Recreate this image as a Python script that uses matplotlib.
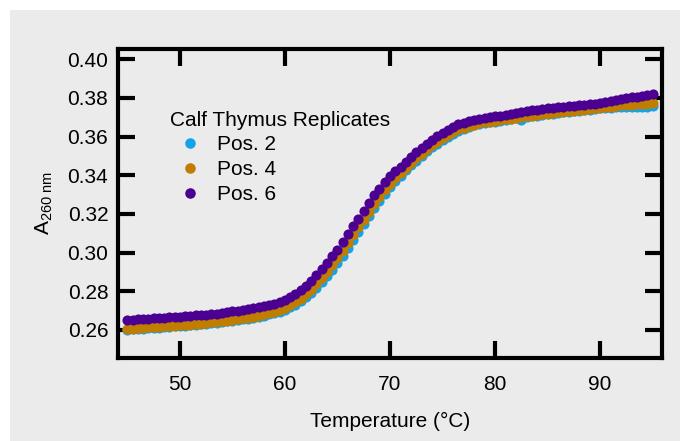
import matplotlib
matplotlib.use("Agg")
import matplotlib.pyplot as plt
from matplotlib.patches import Rectangle
from matplotlib.lines import Line2D
import numpy as np

plt.rcParams['font.family'] = ['Liberation Sans', 'DejaVu Sans']
plt.rcParams['mathtext.fontset'] = 'custom'
plt.rcParams['mathtext.rm'] = 'Liberation Sans'
plt.rcParams['mathtext.it'] = 'Liberation Sans'

temperature = np.arange(45.0, 95.01, 0.5)

pos2 = [0.2600, 0.2603, 0.2605, 0.2607, 0.2609, 0.2610, 0.2612, 0.2614, 0.2616, 0.2618,
        0.2620, 0.2622, 0.2624, 0.2627, 0.2629, 0.2632, 0.2635, 0.2638, 0.2641, 0.2644,
        0.2648, 0.2651, 0.2655, 0.2659, 0.2664, 0.2669, 0.2674, 0.2680, 0.2687, 0.2695,
        0.2705, 0.2717, 0.2731, 0.2748, 0.2768, 0.2791, 0.2817, 0.2846, 0.2878, 0.2912,
        0.2948, 0.2985, 0.3024, 0.3065, 0.3106, 0.3148, 0.3189, 0.3230, 0.3269, 0.3305,
        0.3339, 0.3370, 0.3398, 0.3425, 0.3451, 0.3476, 0.3500, 0.3523, 0.3544, 0.3564,
        0.3583, 0.3600, 0.3616, 0.3630, 0.3641, 0.3650, 0.3658, 0.3664, 0.3669, 0.3674,
        0.3678, 0.3682, 0.3686, 0.3690, 0.3694, 0.3686, 0.3702, 0.3706, 0.3709, 0.3713,
        0.3716, 0.3719, 0.3722, 0.3725, 0.3728, 0.3731, 0.3734, 0.3737, 0.3740, 0.3743,
        0.3746, 0.3748, 0.3750, 0.3752, 0.3753, 0.3754, 0.3752, 0.3751, 0.3752, 0.3753,
        0.3756]

pos4 = [0.2605, 0.2607, 0.2609, 0.2611, 0.2613, 0.2614, 0.2616, 0.2618, 0.2620, 0.2622,
        0.2624, 0.2626, 0.2628, 0.2631, 0.2633, 0.2636, 0.2639, 0.2642, 0.2645, 0.2648,
        0.2652, 0.2656, 0.2660, 0.2664, 0.2669, 0.2674, 0.2680, 0.2686, 0.2694, 0.2703,
        0.2714, 0.2727, 0.2743, 0.2762, 0.2784, 0.2809, 0.2837, 0.2867, 0.2900, 0.2934,
        0.2970, 0.3008, 0.3048, 0.3089, 0.3130, 0.3171, 0.3212, 0.3252, 0.3289, 0.3324,
        0.3356, 0.3385, 0.3412, 0.3438, 0.3464, 0.3489, 0.3512, 0.3534, 0.3554, 0.3574,
        0.3592, 0.3609, 0.3624, 0.3637, 0.3647, 0.3655, 0.3662, 0.3668, 0.3673, 0.3677,
        0.3681, 0.3685, 0.3689, 0.3693, 0.3697, 0.3701, 0.3705, 0.3709, 0.3712, 0.3716,
        0.3719, 0.3722, 0.3725, 0.3728, 0.3731, 0.3734, 0.3737, 0.3740, 0.3743, 0.3746,
        0.3749, 0.3752, 0.3755, 0.3758, 0.3761, 0.3763, 0.3765, 0.3767, 0.3769, 0.3771,
        0.3774]

pos6 = [0.2652, 0.2654, 0.2656, 0.2657, 0.2659, 0.2660, 0.2662, 0.2664, 0.2665, 0.2667,
        0.2669, 0.2671, 0.2673, 0.2675, 0.2677, 0.2679, 0.2682, 0.2685, 0.2688, 0.2692,
        0.2696, 0.2700, 0.2704, 0.2708, 0.2712, 0.2717, 0.2722, 0.2728, 0.2735, 0.2744,
        0.2754, 0.2768, 0.2785, 0.2805, 0.2828, 0.2853, 0.2882, 0.2913, 0.2947, 0.2981,
        0.3016, 0.3056, 0.3096, 0.3136, 0.3175, 0.3217, 0.3258, 0.3296, 0.3331, 0.3364,
        0.3394, 0.3420, 0.3445, 0.3470, 0.3496, 0.3519, 0.3541, 0.3562, 0.3582, 0.3601,
        0.3618, 0.3634, 0.3650, 0.3663, 0.3672, 0.3680, 0.3687, 0.3692, 0.3697, 0.3701,
        0.3705, 0.3709, 0.3713, 0.3718, 0.3722, 0.3727, 0.3731, 0.3736, 0.3740, 0.3744,
        0.3747, 0.3750, 0.3752, 0.3755, 0.3757, 0.3759, 0.3761, 0.3763, 0.3766, 0.3769,
        0.3773, 0.3778, 0.3784, 0.3791, 0.3796, 0.3800, 0.3804, 0.3807, 0.3810, 0.3813,
        0.3818]

series_labels = ["Pos. 2", "Pos. 4", "Pos. 6"]
series_colors = ["#14a3ea", "#c17d00", "#4b0092"]
legend_title = "Calf Thymus Replicates"
x_ticks = [50, 60, 70, 80, 90]
y_ticks = [0.26, 0.28, 0.30, 0.32, 0.34, 0.36, 0.38, 0.40]

W, H = 680, 441
FS = 15
fig = plt.figure(figsize=(W / 100, H / 100), dpi=100, facecolor="white")
bg = "#ebebeb"
fig.patches.append(Rectangle((10 / W, 0), 1 - 10 / W, 1 - 10 / H,
                             transform=fig.transFigure, facecolor=bg,
                             edgecolor="none", zorder=-10))

ax = fig.add_axes([118 / W, 1 - 358 / H, (662 - 118) / W, (358 - 49) / H])
ax.set_facecolor(bg)

for vals, lab, col in zip([pos2, pos4, pos6], series_labels, series_colors):
    ax.plot(temperature, vals, linestyle="none", marker="o", markersize=7.3,
            markeredgewidth=0, color=col, label=lab, clip_on=False)

ax.set_xlim(44.1, 95.9)
ax.set_ylim(0.2455, 0.4053)
ax.set_xticks(x_ticks)
ax.set_xticklabels([str(t) for t in x_ticks])
ax.set_yticks(y_ticks)
ax.set_yticklabels([f"{t:.2f}" for t in y_ticks])

for sp in ax.spines.values():
    sp.set_linewidth(3.0)
    sp.set_color("black")

ax.tick_params(axis="both", which="major", direction="in", length=12, width=3,
               color="black", labelsize=FS, top=True, right=True)
ax.tick_params(axis="x", pad=12)
ax.tick_params(axis="y", pad=7)

ax.set_xlabel("Temperature (°C)", fontsize=FS, labelpad=13)
ax.set_ylabel(r"A$_{\mathregular{260\ nm}}$", fontsize=FS, labelpad=9)

handles = [Line2D([], [], linestyle="none", marker="o", markersize=7.6,
                  markeredgewidth=0, color=c) for c in series_colors]
leg = ax.legend(handles, series_labels, title=legend_title, loc="upper left",
                bbox_to_anchor=(155 / W, 1 - 96 / H), bbox_transform=fig.transFigure,
                frameon=False, fontsize=FS, title_fontsize=FS,
                handlelength=2.0, handletextpad=0.3, labelspacing=0.28,
                borderpad=0.2)
leg._legend_box.align = "left"

fig.savefig("out.png", dpi=100, facecolor=fig.get_facecolor())
